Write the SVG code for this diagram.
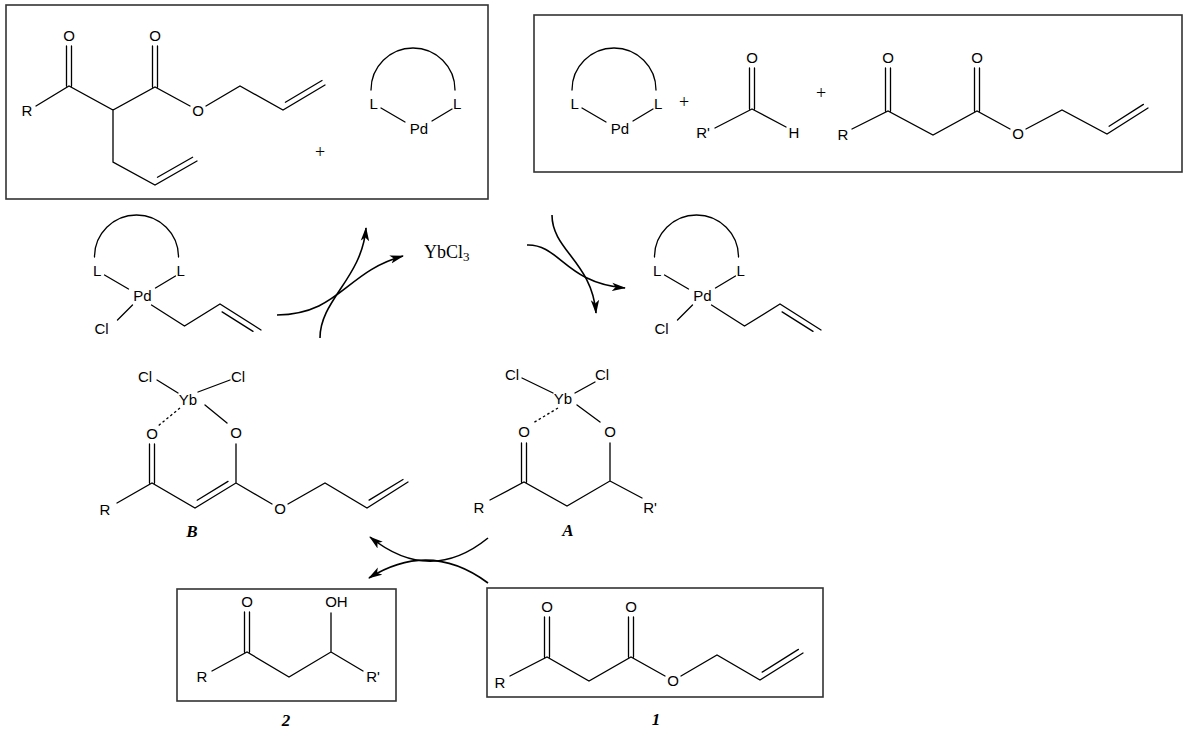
<svg xmlns="http://www.w3.org/2000/svg" xmlns:xlink="http://www.w3.org/1999/xlink" width="1189" height="741" viewBox="0 0 1189 741">
<style>
.b{stroke:#000;stroke-width:1.3;fill:none;stroke-linecap:round}
.d{stroke:#000;stroke-width:1.3;fill:none;stroke-dasharray:2.5 2.5}
.box{stroke:#333;stroke-width:1.6;fill:none}
.a{font-family:"Liberation Sans",Arial,sans-serif;font-size:15px;text-anchor:middle;fill:#000}
.s{text-anchor:start}
.lab{font-family:"Liberation Serif","Times New Roman",serif;font-size:17px;font-weight:bold;font-style:italic;text-anchor:middle;fill:#000}
.plus{font-family:"Liberation Serif","Times New Roman",serif;font-size:18px;text-anchor:middle;fill:#000}
.yb{font-family:"Liberation Serif","Times New Roman",serif;font-size:18px;fill:#000}
.arr{stroke:#000;stroke-width:1.6;fill:none;marker-end:url(#ah)}
</style>
<defs>
<marker id="ah" markerUnits="userSpaceOnUse" markerWidth="14" markerHeight="10" viewBox="0 0 14 10" refX="13" refY="5" orient="auto">
<path d="M0,0.8 L14,5 L0,9.2 L3.5,5 Z" fill="#000"/>
</marker>
<g id="pdL2">
<path class="b" d="M-42,0 A42,42 0 0 1 42,0 M-32,18 L-8,32 M19,31 L39,19"/>
<text class="a s" x="-43.5" y="19">L</text>
<text class="a s" x="40" y="19">L</text>
<text class="a" x="6" y="44">Pd</text>
</g>
<g id="pdAllyl">
<use xlink:href="#pdL2" href="#pdL2"/>
<path class="b" d="M-4,48 L-19,63 M15,48 L48,69 L83.5,47 L124.5,73 M85.6,54.9 L116.5,74.4"/>
<text class="a" x="-35" y="77">Cl</text>
</g>
</defs>

<g id="box-top-left">
<rect class="box" x="6" y="5" width="482" height="194"/>
<g id="diallyl-product">
<path class="b" d="M36,106 L69,86 L113,110 L155,87 L190,106 M206,106 L240,86 L283,110 L325,85 M285.4,102.2 L322,80.5 M66.5,86 L66.5,46 M71.5,86 L71.5,46 M152.5,87 L152.5,46 M157.5,87 L157.5,46 M113,110 L113,162 L155,185 L197,161 M157.5,177.2 L192.6,157.2"/>
<text class="a" x="27" y="116.3">R</text>
<text class="a" x="69" y="41.3">O</text>
<text class="a" x="155" y="41.3">O</text>
<text class="a" x="198" y="116.3">O</text>
</g>
<text class="plus" x="320" y="158">+</text>
<g id="pd-cat-1" transform="translate(413,90)"><use xlink:href="#pdL2" href="#pdL2"/></g>
</g>

<g id="box-top-right">
<rect class="box" x="534" y="15" width="648" height="157"/>
<g id="pd-cat-2" transform="translate(614,90)"><use xlink:href="#pdL2" href="#pdL2"/></g>
<text class="plus" x="684" y="108">+</text>
<g id="aldehyde">
<path class="b" d="M749.5,109 L749.5,68 M754.5,109 L754.5,68 M752,109 L715,128 M752,109 L786,127"/>
<text class="a" x="752" y="63.3">O</text>
<text class="a" x="703" y="138.3">R'</text>
<text class="a" x="794" y="138.3">H</text>
</g>
<text class="plus" x="821" y="99">+</text>
<g id="allyl-ketoester-top">
<path class="b" d="M852,129 L888,111 L933,135 L977,111 L1010,129 M1026,129 L1062,110 L1107,134 L1148,108 M1109.1,126.2 L1143.4,104.4 M885.5,111 L885.5,68 M890.5,111 L890.5,68 M974.5,111 L974.5,68 M979.5,111 L979.5,68"/>
<text class="a" x="843" y="140.3">R</text>
<text class="a" x="888" y="63.3">O</text>
<text class="a" x="977" y="63.3">O</text>
<text class="a" x="1018" y="139.3">O</text>
</g>
</g>

<g id="pd-allyl-left" transform="translate(136.5,257)"><use xlink:href="#pdAllyl" href="#pdAllyl"/></g>
<g id="ybcl3"><text class="yb" x="424" y="258">YbCl<tspan font-size="13" dy="3">3</tspan></text></g>
<g id="pd-allyl-right" transform="translate(696.5,257)"><use xlink:href="#pdAllyl" href="#pdAllyl"/></g>

<g id="intermediate-B">
<path class="b" d="M157,380 L178,393 M198,392 L230,380 M205,405 L227,423 M149.5,483 L149.5,444 M154.5,483 L154.5,444 M117,503 L152,483 L195,508 L236,483 L236,444 M197.2,500.2 L228,481.4 M236,483 L272,504 M288,504 L325,483 L367,508 L408,482 M369.1,500.1 L403,479.5"/>
<path class="d" d="M180,408 L158,426"/>
<text class="a" x="145" y="382.3">Cl</text>
<text class="a" x="238" y="382.3">Cl</text>
<text class="a" x="188" y="405.3">Yb</text>
<text class="a" x="152" y="439.3">O</text>
<text class="a" x="236" y="438.3">O</text>
<text class="a" x="105" y="515.3">R</text>
<text class="a" x="280" y="514.3">O</text>
<text class="lab" x="192" y="537">B</text>
</g>

<g id="intermediate-A">
<path class="b" d="M522,378 L553,393 M575,393 L595,382 M577,405 L600,422 M521.5,482 L521.5,443 M526.5,482 L526.5,443 M490,500 L524,482 L567,506 L610,481 L610,443 M610,481 L642,498"/>
<path class="d" d="M558,408 L533,423"/>
<text class="a" x="512" y="380.3">Cl</text>
<text class="a" x="602" y="380.3">Cl</text>
<text class="a" x="563" y="404.3">Yb</text>
<text class="a" x="524" y="437.3">O</text>
<text class="a" x="610" y="437.3">O</text>
<text class="a" x="479" y="513.3">R</text>
<text class="a" x="650" y="513.3">R'</text>
<text class="lab" x="568" y="536">A</text>
</g>

<g id="product-2">
<rect class="box" x="177" y="589" width="219" height="112"/>
<path class="b" d="M244.5,652 L244.5,612 M249.5,652 L249.5,612 M212,671 L247,652 L289,677 L331,652 L331,613 M331,652 L363,671"/>
<text class="a" x="247" y="607.3">O</text>
<text class="a s" x="325.2" y="607.3">OH</text>
<text class="a" x="202" y="682.3">R</text>
<text class="a" x="373" y="682.3">R'</text>
<text class="lab" x="286" y="726">2</text>
</g>

<g id="substrate-1">
<rect class="box" x="487" y="588" width="336" height="109"/>
<path class="b" d="M510,676 L547,657 L589,681 L631,657 L665,676 M681,676 L717,655 L760,680 L803,653 M762.2,672.1 L798.4,649.4 M544.5,657 L544.5,617 M549.5,657 L549.5,617 M628.5,657 L628.5,617 M633.5,657 L633.5,617"/>
<text class="a" x="500" y="688.3">R</text>
<text class="a" x="547" y="612.3">O</text>
<text class="a" x="631" y="612.3">O</text>
<text class="a" x="673" y="686.3">O</text>
<text class="lab" x="656" y="725">1</text>
</g>

<g id="connectors">
<path class="arr" d="M277,315 C340,314 345,272 403,256"/>
<path class="arr" d="M320,338 C320,300 362,278 366,228"/>
<path class="arr" d="M552,215 C552,250 592,262 596,313"/>
<path class="arr" d="M527,245 C560,244 565,283 625,288"/>
<path class="arr" d="M488,538 Q430,585 370,537"/>
<path class="arr" d="M488,583 Q430,540 369,578"/>
</g>
</svg>
